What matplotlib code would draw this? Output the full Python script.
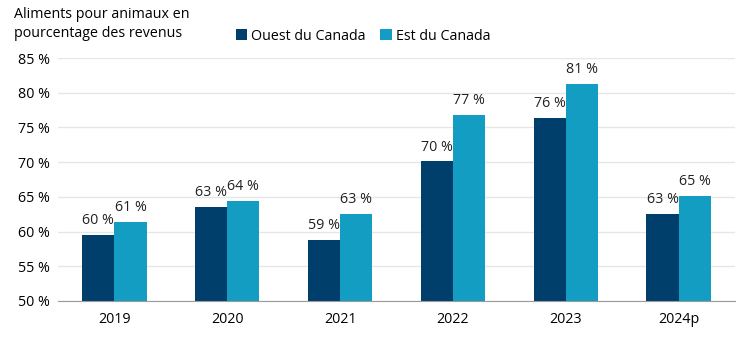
import matplotlib.pyplot as plt
import numpy as np

years = ["2019", "2020", "2021", "2022", "2023", "2024p"]
west = [59.5, 63.5, 58.8, 70.1, 76.4, 62.6]
east = [61.4, 64.4, 62.5, 76.8, 81.2, 65.1]
west_labels = ["60 %", "63 %", "59 %", "70 %", "76 %", "63 %"]
east_labels = ["61 %", "64 %", "63 %", "77 %", "81 %", "65 %"]
yticks = [50, 55, 60, 65, 70, 75, 80, 85]

plt.rcParams["font.family"] = ["Open Sans", "DejaVu Sans"]
fs = 10.3

fig = plt.figure(figsize=(7.48, 3.41), dpi=100)
ax = fig.add_axes([58 / 748, 40 / 341, 677 / 748, 243 / 341])

x = np.arange(len(years))
w = 0.285
c_west = "#003e6b"
c_east = "#139dc2"
b1 = ax.bar(x - w / 2, west, w, color=c_west, label="Ouest du Canada")
b2 = ax.bar(x + w / 2, east, w, color=c_east, label="Est du Canada")

for bars, labs in ((b1, west_labels), (b2, east_labels)):
    for bar, lab in zip(bars, labs):
        ax.text(bar.get_x() + bar.get_width() / 2, bar.get_height() + 1.0, lab,
                ha="center", va="bottom", fontsize=fs, color="#222222")

ax.set_ylim(50, 85)
ax.set_xlim(-0.5, len(years) - 0.5)
ax.set_yticks(yticks)
ax.set_yticklabels([f"{v} %" for v in yticks], fontsize=fs)
ax.set_xticks(x)
ax.set_xticklabels(years, fontsize=fs)
ax.tick_params(axis="x", length=0, pad=8)
ax.tick_params(axis="y", length=0, pad=6)
ax.grid(axis="y", color="#e6e6e6", linewidth=1)
ax.set_axisbelow(True)
for s in ("top", "right", "left"):
    ax.spines[s].set_visible(False)
ax.spines["bottom"].set_color("#9a9a9a")

fig.text(14 / 748, 1 - 24 / 341, "Aliments pour animaux en\npourcentage des revenus",
         ha="left", va="center", fontsize=fs, linespacing=1.3)
ax.legend(loc="upper left", bbox_to_anchor=(230 / 748, 1 - 23 / 341),
          bbox_transform=fig.transFigure, ncol=2, frameon=False, fontsize=fs,
          handlelength=0.8, handleheight=0.8, handletextpad=0.3, columnspacing=1.0,
          borderaxespad=0)

fig.savefig("out.png", dpi=100)
